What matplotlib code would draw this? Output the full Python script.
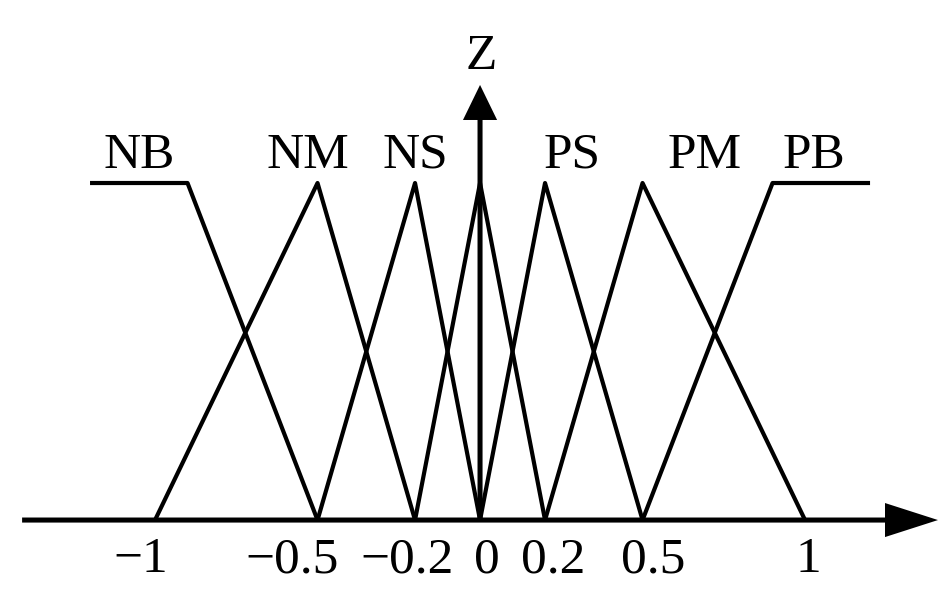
import matplotlib
matplotlib.use("Agg")
import matplotlib.pyplot as plt

plt.rcParams['font.family'] = ['Liberation Serif', 'DejaVu Serif']

# membership functions (breakpoints on the universe, membership degree)
nb_x = [-1.2, -0.9, -0.5]
nb_y = [1, 1, 0]
nm_x = [-1, -0.5, -0.2]
nm_y = [0, 1, 0]
ns_x = [-0.5, -0.2, 0]
ns_y = [0, 1, 0]
z_x = [-0.2, 0, 0.2]
z_y = [0, 1, 0]
ps_x = [0, 0.2, 0.5]
ps_y = [0, 1, 0]
pm_x = [0.2, 0.5, 1]
pm_y = [0, 1, 0]
pb_x = [0.5, 0.9, 1.2]
pb_y = [0, 1, 1]

set_names = ['NB', 'NM', 'NS', 'PS', 'PM', 'PB']
name_x = [-1.049, -0.529, -0.2, 0.283, 0.692, 1.028]

tick_labels = ['\u22121', '\u22120.5', '\u22120.2', '0', '0.2', '0.5', '1']
tick_text_x = [-1.043, -0.578, -0.225, 0.022, 0.225, 0.532, 1.009]

fig = plt.figure(figsize=(9.5, 6.07), dpi=100)
ax = fig.add_axes([0, 0, 1, 1])
ax.set_xlim(-1.477, 1.446)
ax.set_ylim(-0.258, 1.543)
ax.axis('off')

for xs, ys in [(nb_x, nb_y), (nm_x, nm_y), (ns_x, ns_y), (z_x, z_y),
               (ps_x, ps_y), (pm_x, pm_y), (pb_x, pb_y)]:
    ax.plot(xs, ys, color='black', lw=3, solid_joinstyle='round',
            solid_capstyle='butt')

# axes arrows
ax.arrow(-1.409, 0, 2.818, 0, width=0.015, head_width=0.101,
         head_length=0.163, length_includes_head=True, color='black', lw=0)
ax.arrow(0, 0, 0, 1.291, width=0.0155, head_width=0.105,
         head_length=0.104, length_includes_head=True, color='black', lw=0)

fs = 37
for name, x in zip(set_names, name_x):
    ax.text(x, 1.045, name, ha='center', va='baseline', fontsize=fs)
ax.text(0.003, 1.338, 'Z', ha='center', va='baseline', fontsize=fs)

for lab, x in zip(tick_labels, tick_text_x):
    ax.text(x, -0.155, lab, ha='center', va='baseline', fontsize=fs)

fig.savefig('out.png', dpi=100, facecolor='white')
